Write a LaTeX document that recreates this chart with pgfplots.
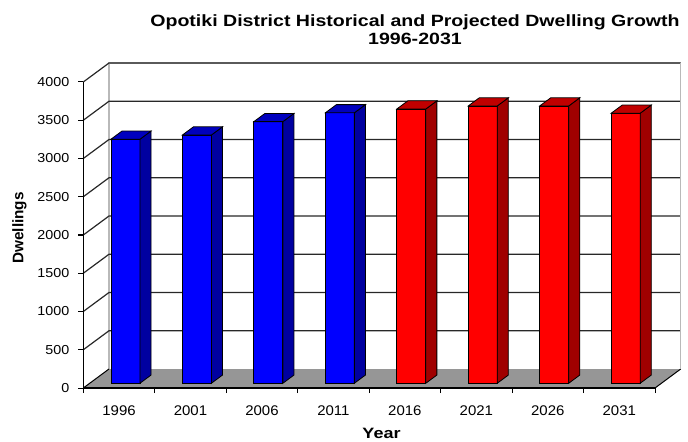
\documentclass[border=0pt]{standalone}
\usepackage{pgfplots}
\pgfplotsset{compat=1.18}
\usepackage{pgfplotstable}
\usepackage{fontspec}
\setmainfont{Liberation Sans}

\definecolor{bluefront}{RGB}{0,0,255}
\definecolor{blueside}{RGB}{0,0,160}
\definecolor{bluetop}{RGB}{0,0,190}
\definecolor{redfront}{RGB}{255,0,0}
\definecolor{redside}{RGB}{160,0,0}
\definecolor{redtop}{RGB}{192,0,0}
\definecolor{floorgray}{RGB}{150,150,150}
\definecolor{gridc}{RGB}{40,40,40}
\definecolor{walledge}{RGB}{185,185,185}

\pgfplotstableread{
idx year v
0 1996 3190
1 2001 3245
2 2006 3420
3 2011 3535
4 2016 3585
5 2021 3625
6 2026 3625
7 2031 3530
}\dwell

\begin{document}
\begin{tikzpicture}
\begin{axis}[
  scale only axis, width=571.7pt, height=306pt,
  xmin=0, xmax=8, ymin=0, ymax=4000,
  clip=false, axis on top,
  axis x line=bottom, axis y line=left,
  x axis line style={-, line width=2.3pt},
  y axis line style={-, line width=1.3pt},
  tick align=outside, major tick length=5pt,
  tick style={black, line width=1pt},
  xtick={0,...,8},
  x tick label as interval,
  xticklabels={1996,2001,2006,2011,2016,2021,2026,2031},
  ytick={0,500,...,4000},
  yticklabels={0,500,1000,1500,2000,2500,3000,3500,4000},
  xticklabel style={font=\fontsize{14}{16}\selectfont, xscale=1.07, inner sep=0pt, anchor=north},
  xticklabel shift=12.7pt,
  yticklabel style={font=\fontsize{13}{15}\selectfont, xscale=1.1, inner sep=0pt, anchor=east},
  yticklabel shift=8.8pt,
  title={Opotiki District Historical and Projected Dwelling Growth\\1996-2031},
  title style={font=\bfseries\fontsize{16.3}{18}\selectfont, align=center, at={(axis description cs:0.5802,1.1994)}, anchor=north, inner sep=0pt, xscale=1.2},
  xlabel={Year},
  xlabel style={font=\bfseries\fontsize{15}{17}\selectfont, at={(axis description cs:0.5216,-0.1634)}, anchor=base, inner sep=0pt, xscale=1.2},
  ylabel={Dwellings},
  ylabel style={font=\bfseries\fontsize{15.3}{17}\selectfont, at={(axis description cs:-0.105,0.523)}, anchor=base, inner sep=0pt},
]
% back wall
\addplot[draw=walledge, line width=1.5pt, fill=white, forget plot] coordinates {(0.3597,248.4) (0.3597,4248.4) (8.3597,4248.4) (8.3597,248.4)};
% gridlines on back and side wall
\pgfplotsinvokeforeach{500,1000,...,4000}{
  \pgfmathsetmacro\gy{#1+248.4}
  \edef\cmd{\noexpand\addplot[gridc, line width=1.2pt, forget plot] coordinates {(0,#1) (0.3597,\gy) (8.3597,\gy)};}
  \cmd
}
% floor
\addplot[fill=floorgray, draw=none, forget plot] coordinates {(0,0) (8,0) (8.3597,248.4) (0.3597,248.4)} -- cycle;
\addplot[black, line width=1pt, forget plot] coordinates {(8,0) (8.3597,248.4)};
\addplot[black, line width=1pt, forget plot] coordinates {(0,0) (0.3597,248.4)};
\addplot[walledge, line width=1.5pt, forget plot] coordinates {(8.3597,248.4) (8.3597,4248.4)};
% bars
\pgfplotsinvokeforeach{0,...,7}{
  \pgfplotstablegetelem{#1}{v}\of\dwell
  \let\bv\pgfplotsretval
  \pgfmathsetmacro\xl{#1+0.5-0.203+0.0899}
  \pgfmathsetmacro\xr{#1+0.5+0.203+0.0899}
  \pgfmathsetmacro\xrb{#1+0.5+0.203+0.2446}
  \pgfmathsetmacro\xlb{#1+0.5-0.203+0.2446}
  \pgfmathsetmacro\tf{\bv+62.1}
  \pgfmathsetmacro\tb{\bv+168.9}
  \ifnum#1<4 \def\fc{bluefront}\def\sc{blueside}\def\tc{bluetop}\else\def\fc{redfront}\def\sc{redside}\def\tc{redtop}\fi
  \edef\cmd{%
    \noexpand\addplot[fill=\fc, draw=black, line width=0.8pt, forget plot] coordinates {(\xl,62.1) (\xr,62.1) (\xr,\tf) (\xl,\tf)} -- cycle;
    \noexpand\addplot[fill=\sc, draw=black, line width=0.8pt, forget plot] coordinates {(\xr,62.1) (\xr,\tf) (\xrb,\tb) (\xrb,168.9)} -- cycle;
    \noexpand\addplot[fill=\tc, draw=black, line width=0.8pt, forget plot] coordinates {(\xl,\tf) (\xr,\tf) (\xrb,\tb) (\xlb,\tb)} -- cycle;
  }%
  \cmd
}
\coordinate (bbl) at (axis cs:-1.1657,-692.8);
\coordinate (btr) at (axis cs:8.4617,5071.9);
\end{axis}
\pgfresetboundingbox
\path[use as bounding box] (bbl) rectangle (btr);
\end{tikzpicture}
\end{document}
